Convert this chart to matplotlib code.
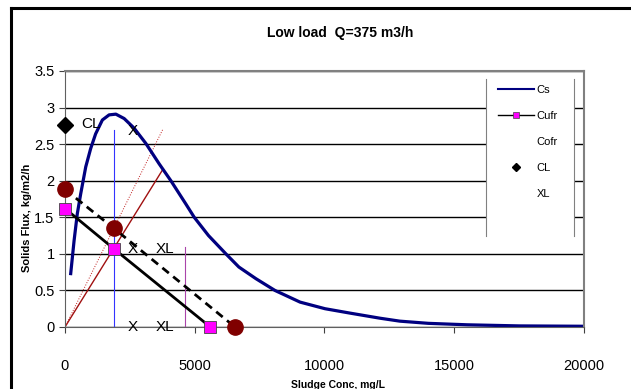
import matplotlib.pyplot as plt
from matplotlib.lines import Line2D
from matplotlib.patches import Rectangle

plt.rcParams['font.family'] = ['Liberation Sans', 'DejaVu Sans']

# flux curve Cs
cs_conc = [220, 350, 475, 605, 800, 990, 1180, 1440, 1700, 1960, 2280, 2660, 3115, 3630,
           4080, 4660, 4980, 5530, 6200, 6700, 7360, 8090, 9060, 10020, 10980, 12140,
           12900, 14000, 15500, 17500, 20000]
cs_flux = [0.73, 1.18, 1.55, 1.82, 2.19, 2.44, 2.64, 2.83, 2.90, 2.91, 2.85, 2.72, 2.51, 2.23,
           2.0, 1.68, 1.5, 1.25, 1.0, 0.82, 0.66, 0.5, 0.34, 0.25, 0.19, 0.12,
           0.08, 0.05, 0.03, 0.015, 0.01]

# underflow line Cufr
cufr_conc = [0, 1880, 5600]
cufr_flux = [1.62, 1.07, 0]

# overflow line Cofr
cofr_conc = [0, 1880, 6550]
cofr_flux = [1.88, 1.35, 0]

# CL point
cl_conc = [0]
cl_flux = [2.76]

# helper lines
x_line_conc = [1880, 1880]
x_line_flux = [0, 2.7]
xl_line_conc = [4610, 4610]
xl_line_flux = [0, 1.09]
red_solid_conc = [0, 3780]
red_solid_flux = [0, 2.16]
red_dot_conc = [0, 3780]
red_dot_flux = [0, 2.71]

fig = plt.figure(figsize=(6.31, 3.89), dpi=100)
ax = fig.add_axes([0.103, 0.1594, 0.8225, 0.6581])

ax.set_xlim(0, 20000)
ax.set_ylim(0, 3.5)
ax.set_yticks([0, 0.5, 1, 1.5, 2, 2.5, 3, 3.5])
ax.set_yticklabels(['0', '0.5', '1', '1.5', '2', '2.5', '3', '3.5'])
ax.set_xticks([0, 5000, 10000, 15000, 20000])
ax.grid(axis='y', color='black', lw=1.0)
ax.set_axisbelow(True)
for s in ['top', 'right']:
    ax.spines[s].set_color('#808080')
    ax.spines[s].set_linewidth(1.5)
ax.spines['left'].set_color('#606060')
ax.spines['bottom'].set_color('#606060')
ax.tick_params(labelsize=10.5, length=4, color='#404040')
ax.tick_params(axis='x', pad=19)

ax.plot(x_line_conc, x_line_flux, color='#3333ff', lw=0.8)
ax.plot(xl_line_conc, xl_line_flux, color='#aa44aa', lw=0.8)
ax.plot(red_solid_conc, red_solid_flux, color='#a01010', lw=1.0)
ax.plot(red_dot_conc, red_dot_flux, color='#c02020', lw=0.7, ls=':')

ax.plot(cs_conc, cs_flux, color='#000080', lw=2.3, solid_joinstyle='round')
ax.plot(cufr_conc, cufr_flux, color='black', lw=2.0, marker='s', ms=9,
        mfc='#ff00ff', mec='#444444', mew=0.6, clip_on=False, zorder=5)
ax.plot(cofr_conc, cofr_flux, color='black', lw=2.0, ls=(0, (3, 2)), zorder=4)
ax.plot(cofr_conc, cofr_flux, ls='none', marker='o', ms=11, mfc='#800000',
        mec='#800000', clip_on=False, zorder=6)
ax.plot(cl_conc, cl_flux, ls='none', marker='D', ms=8, color='black', clip_on=False, zorder=6)

ax.text(620, 2.77, 'CL', fontsize=11, va='center')
ax.text(2400, 2.68, 'X', fontsize=11, va='center')
ax.text(2400, 1.07, 'X', fontsize=11, va='center')
ax.text(3500, 1.07, 'XL', fontsize=11, va='center')
ax.text(2400, 0.0, 'X', fontsize=11, va='center')
ax.text(3500, 0.0, 'XL', fontsize=11, va='center')

# legend box
ax.add_patch(Rectangle((0.811, 0.355), 0.17, 0.614, transform=ax.transAxes,
                       facecolor='white', edgecolor='none', zorder=3))
ax.plot([0.811, 0.811], [0.355, 0.969], transform=ax.transAxes, color='#808080', lw=0.8, zorder=3)
ax.plot([0.981, 0.981], [0.355, 0.969], transform=ax.transAxes, color='#808080', lw=0.8, zorder=3)
handles = [
    Line2D([], [], color='#000080', lw=1.5),
    Line2D([], [], color='black', lw=1.0, marker='s', ms=5, mfc='#ff00ff', mec='#444444', mew=0.5),
    Line2D([], [], ls='none'),
    Line2D([], [], ls='none', marker='D', ms=4, color='black'),
    Line2D([], [], ls='none'),
]
leg = ax.legend(handles, ['Cs', 'Cufr', 'Cofr', 'CL', 'XL'], loc='upper left',
                bbox_to_anchor=(0.815, 0.985), frameon=False, fontsize=8,
                labelspacing=1.45, handlelength=3.2, handletextpad=0.3)
leg.set_zorder(4)

fig.text(0.539, 0.915, 'Low load  Q=375 m3/h', ha='center', va='center',
         fontsize=10, fontweight='bold')
fig.text(0.5356, 0.0103, 'Sludge Conc, mg/L', ha='center', va='center',
         fontsize=7.5, fontweight='bold')
fig.text(0.043, 0.44, 'Solids Flux, kg/m2/h', ha='center', va='center',
         rotation=90, fontsize=8, fontweight='bold')

# outer frame
fig.add_artist(Line2D([0.018, 0.018], [0, 0.98], color='black', lw=2.2))
fig.add_artist(Line2D([0.018, 1.0], [0.98, 0.98], color='black', lw=2.2))

fig.savefig('out.png', dpi=100)
